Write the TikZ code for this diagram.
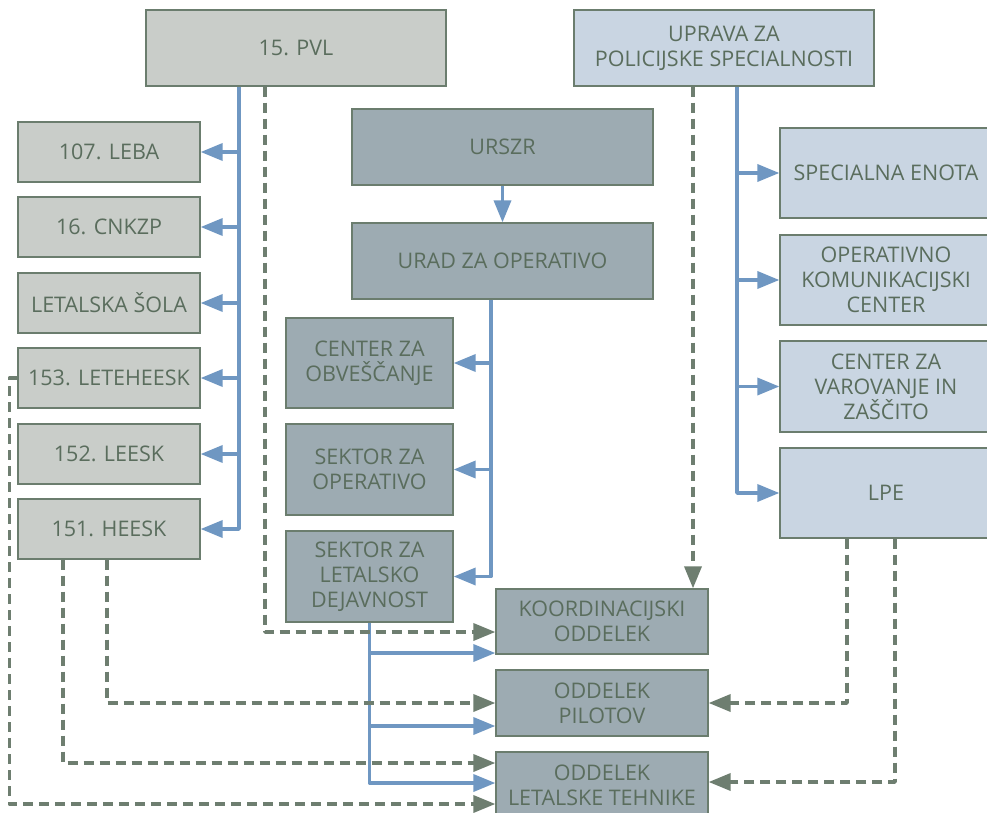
\documentclass[tikz,border=0pt]{standalone}
\usepackage{fontspec}
\setmainfont{Open Sans}
\usetikzlibrary{arrows.meta}
\definecolor{txt}{HTML}{5A6D5D}
\definecolor{brd}{HTML}{6B7D6E}
\definecolor{dshc}{HTML}{6E7E70}
\definecolor{blu}{HTML}{6F97C2}
\definecolor{lgrey}{HTML}{C9CDC9}
\definecolor{dgrey}{HTML}{9DABB2}
\definecolor{lblue}{HTML}{C9D5E2}
\tikzset{
  box/.style={draw=brd, line width=1.3pt, inner sep=0pt, align=center,
    text=txt, font=\fontsize{21.5}{25}\selectfont},
  gbox/.style={box, fill=lgrey},
  dbox/.style={box, fill=dgrey},
  bbox/.style={box, fill=lblue},
  bl/.style={draw=blu, line width=3.5pt, line join=round},
  dsh/.style={draw=dshc, line width=3.5pt, line join=round, dash pattern=on 10pt off 6pt},
  btip/.style={-{Triangle[length=22pt,width=17pt]}, bl},
  dtip/.style={-{Triangle[length=22pt,width=17pt]}, dsh},
}
\begin{document}
\begin{tikzpicture}[x=1pt,y=-1pt]
\useasboundingbox (0,0) rectangle (987,813);
\clip (0,0) rectangle (987,813);
\fill[white] (0,0) rectangle (987,813);
% top boxes
\node[gbox, minimum width=300pt, minimum height=76pt] (pvl) at (296,48) {15. PVL};
\node[bbox, minimum width=300pt, minimum height=76pt] (upr) at (724,48) {UPRAVA ZA\\POLICIJSKE SPECIALNOSTI};
% left column
\foreach \n/\y/\t in {leba/152/107. LEBA, cnk/227/16. CNKZP, sola/303/LETALSKA ŠOLA, lete/378/153. LETEHEESK, lees/454/152. LEESK, hees/529/151. HEESK}{
  \node[gbox, minimum width=182pt, minimum height=60pt] (\n) at (109,\y) {\t};
}
% middle
\node[dbox, minimum width=301pt, minimum height=76pt] (urszr) at (502.5,147) {URSZR};
\node[dbox, minimum width=301pt, minimum height=76pt] (urad) at (502.5,261) {URAD ZA OPERATIVO};
\node[dbox, minimum width=167pt, minimum height=90pt] (cen) at (369.5,363) {CENTER ZA\\OBVEŠČANJE};
\node[dbox, minimum width=167pt, minimum height=91pt] (sop) at (369.5,469.5) {SEKTOR ZA\\OPERATIVO};
\node[dbox, minimum width=167pt, minimum height=91pt] (sld) at (369.5,576.5) {SEKTOR ZA\\LETALSKO\\DEJAVNOST};
% right column
\node[bbox, minimum width=212pt, minimum height=90pt] (spe) at (886,173) {SPECIALNA ENOTA};
\node[bbox, minimum width=212pt, minimum height=90pt] (okc) at (886,280) {OPERATIVNO\\KOMUNIKACIJSKI\\CENTER};
\node[bbox, minimum width=212pt, minimum height=91pt] (cvz) at (886,386.5) {CENTER ZA\\VAROVANJE IN\\ZAŠČITO};
\node[bbox, minimum width=212pt, minimum height=90pt] (lpe) at (886,493) {LPE};
% bottom
\node[dbox, minimum width=212pt, minimum height=65pt] (koord) at (602,621.5) {KOORDINACIJSKI\\ODDELEK};
\node[dbox, minimum width=212pt, minimum height=66pt] (pil) at (602,703) {ODDELEK\\PILOTOV};
\node[dbox, minimum width=212pt, minimum height=66pt] (teh) at (602,785) {ODDELEK\\LETALSKE TEHNIKE};

% blue: 15. PVL
\draw[btip] (pvl.south -| 239,0) |- (hees.east);
\foreach \n in {leba,cnk,sola,lete,lees}{
  \draw[btip] (\n.east -| 239,0) -- (\n.east);
}
% blue: URSZR -> URAD
\draw[btip] (urszr.south) -- (urad.north);
% blue: URAD
\draw[btip] (urad.south -| 491,0) |- (sld.east);
\draw[btip] (cen.east -| 491,0) -- (cen.east);
\draw[btip] (sop.east -| 491,0) -- (sop.east);
% blue: UPRAVA
\draw[btip] (upr.south -| 737,0) |- (lpe.west);
\draw[btip] (spe.west -| 737,0) -- (spe.west);
\draw[btip] (okc.west -| 737,0) -- (okc.west);
\draw[btip] (cvz.west -| 737,0) -- (cvz.west);
% blue: SEKTOR ZA LETALSKO DEJAVNOST
\draw[btip] (sld.south) |- (teh.west |- 0,783);
\draw[btip] (sld.south |- 0,653) -- (koord.west |- 0,653);
\draw[btip] (sld.south |- 0,726) -- (pil.west |- 0,726);

% dashed
\draw[dtip] (pvl.south -| 265,0) |- (koord.west |- 0,632);
\draw[dtip] (upr.south -| 693,0) -- (koord.north -| 693,0);
\draw[dtip] (hees.south -| 107,0) |- (pil.west);
\draw[dtip] (hees.south -| 63,0) |- (teh.west |- 0,763);
\draw[dtip] (lete.west) -- ++(-8,0) |- (teh.west |- 0,804);
\draw[dtip] (lpe.south -| 847,0) |- (pil.east);
\draw[dtip] (lpe.south -| 895,0) |- (teh.east |- 0,782);
\end{tikzpicture}
\end{document}
